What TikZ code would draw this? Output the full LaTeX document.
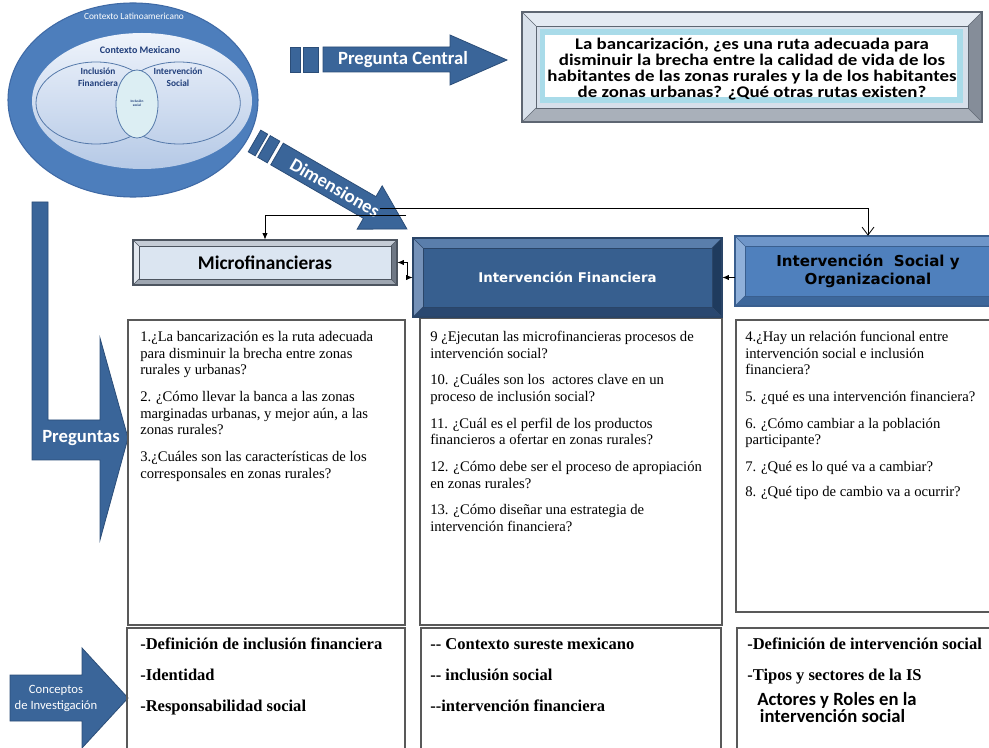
\documentclass[tikz,border=0pt]{standalone}
\usepackage{fontspec}
\setmainfont{Liberation Serif}
\newfontfamily\calib{Carlito}
\newfontfamily\calibwide[FakeStretch=1.16]{Carlito}
\newfontfamily\dejav{DejaVu Sans}
\usetikzlibrary{arrows.meta,shapes.geometric,calc}

\definecolor{arrowblue}{HTML}{3A6599}
\definecolor{arrowedge}{HTML}{2B4D78}
\definecolor{ellblue}{HTML}{4D7EBC}
\definecolor{elledge}{HTML}{3F6AA6}
\definecolor{inlight}{HTML}{EEF3FB}
\definecolor{indark}{HTML}{B5C9E6}
\definecolor{vennedge}{HTML}{5579AA}
\definecolor{centfill}{HTML}{DCEEF3}
\definecolor{navytxt}{HTML}{1F3D7A}
% micro
\definecolor{mitop}{HTML}{C5CCD6}
\definecolor{mileft}{HTML}{E3E8EF}
\definecolor{miright}{HTML}{6F7885}
\definecolor{mibot}{HTML}{9EA6B1}
\definecolor{miface}{HTML}{DBE5F1}
\definecolor{miline}{HTML}{4D5560}
% fin
\definecolor{fitop}{HTML}{5A7EAB}
\definecolor{fileft}{HTML}{7491B8}
\definecolor{firight}{HTML}{1F3B5E}
\definecolor{fibot}{HTML}{2A4870}
\definecolor{fiface}{HTML}{375F8F}
\definecolor{filine}{HTML}{2A4568}
% social
\definecolor{sotop}{HTML}{6F96C9}
\definecolor{soleft}{HTML}{8FB0DA}
\definecolor{soright}{HTML}{2F5687}
\definecolor{sobot}{HTML}{3D679B}
\definecolor{soface}{HTML}{4F80BD}
\definecolor{soline}{HTML}{3A5F8F}
% question frame
\definecolor{qftop}{HTML}{E4EAF2}
\definecolor{qfleft}{HTML}{D9E1EB}
\definecolor{qfright}{HTML}{858D99}
\definecolor{qfbot}{HTML}{A9B0BA}
\definecolor{qfface}{HTML}{D6DFEA}
\definecolor{qfline}{HTML}{5E6672}
\definecolor{qband}{HTML}{A9DBE9}

\newcommand{\bevel}[6]{%
 \fill[#6top] (#1,#2) -- (#3,#2) -- ({#3-#5},{#2+#5}) -- ({#1+#5},{#2+#5}) -- cycle;
 \fill[#6left] (#1,#2) -- ({#1+#5},{#2+#5}) -- ({#1+#5},{#4-#5}) -- (#1,#4) -- cycle;
 \fill[#6right] (#3,#2) -- (#3,#4) -- ({#3-#5},{#4-#5}) -- ({#3-#5},{#2+#5}) -- cycle;
 \fill[#6bot] (#1,#4) -- (#3,#4) -- ({#3-#5},{#4-#5}) -- ({#1+#5},{#4-#5}) -- cycle;
 \fill[#6face] ({#1+#5},{#2+#5}) rectangle ({#3-#5},{#4-#5});
 \draw[#6line, line width=0.5pt] ({#1+#5},{#2+#5}) rectangle ({#3-#5},{#4-#5});
 \draw[#6line, line width=0.5pt] (#1,#2) -- ({#1+#5},{#2+#5}) (#3,#2) -- ({#3-#5},{#2+#5})
   (#1,#4) -- ({#1+#5},{#4-#5}) (#3,#4) -- ({#3-#5},{#4-#5});
 \draw[#6line, line width=0.8pt] (#1,#2) rectangle (#3,#4);
}

\begin{document}
\begin{tikzpicture}[x=0.75pt,y=-0.75pt,
  arrowshape/.style={fill=arrowblue, draw=arrowedge, line width=0.6pt},
  arrowlabel/.style={text=white, inner sep=0pt},
  qtext/.style={anchor=north west, inner sep=0pt, align=left, font=\fontsize{11}{12.5}\selectfont},
  ctext/.style={anchor=north west, inner sep=0pt, align=left, font=\bfseries\fontsize{12.4}{23}\selectfont},
  frame/.style={draw=black!65, line width=1pt},
  conn/.style={draw=black, line width=0.6pt},
  tip/.style={-{Latex[length=5pt,width=4pt]}},
]
\clip (0,0) rectangle (989,748);
\fill[white] (0,0) rectangle (989,748);

% ---- context ellipses
\node[ellipse, fill=ellblue, draw=elledge, line width=0.8pt, minimum width=187.5pt, minimum height=145.5pt, inner sep=0pt] (latam) at (133,100) {};
\node[ellipse, top color=inlight, bottom color=indark, draw=none, minimum width=165pt, minimum height=102pt, inner sep=0pt] (mex) at (142,101) {};
\node[ellipse, draw=vennedge, line width=0.6pt, minimum width=90pt, minimum height=61.5pt, inner sep=0pt] (incfin) at (96,103) {};
\node[ellipse, draw=vennedge, line width=0.6pt, minimum width=92pt, minimum height=61.5pt, inner sep=0pt] (intsoc) at (179,103) {};
\node[text=white, inner sep=0pt, font=\calib\fontsize{7}{8}\selectfont] (latamlbl) at (134,16) {Contexto Latinoamericano};
\node[text=navytxt, inner sep=0pt, font=\calib\bfseries\fontsize{7.5}{8}\selectfont] (mexlbl) at (140,50) {Contexto Mexicano};
\node[text=navytxt, inner sep=0pt, align=center, font=\calib\bfseries\fontsize{7}{8.8}\selectfont] (incfinlbl) at (98,77) {Inclusión\\Financiera};
\node[text=navytxt, inner sep=0pt, align=center, font=\calib\bfseries\fontsize{7}{8.8}\selectfont] (intsoclbl) at (178,77) {Intervención\\Social};
\node[ellipse, fill=centfill, draw=vennedge, line width=0.6pt, minimum width=31.5pt, minimum height=51pt, inner sep=0pt] (incsoc) at (137,104) {};
\node[text=navytxt, inner sep=0pt, align=center, font=\calib\bfseries\fontsize{2.6}{3}\selectfont] (incsoclbl) at (137,103) {Inclusión\\social};

% ---- Pregunta Central arrow
\filldraw[arrowshape] (290,47) -- (300,47) -- (300,72) -- (290,72) -- cycle;
\filldraw[arrowshape] (303,47) -- (318,47) -- (318,72) -- (303,72) -- cycle;
\filldraw[arrowshape] (323,47) -- (450,47) -- (450,35) -- (507,60) -- (450,85) -- (450,72) -- (323,72) -- cycle;
\node[arrowlabel, font=\calib\bfseries\fontsize{14}{16}\selectfont] (pclbl) at (403,60) {Pregunta Central};

% ---- central question frame
\bevel{522}{12}{982}{122}{14}{qf}
\fill[qband] (540,29) rectangle (963,103);
\fill[white] (545,35) rectangle (957,97);
\node[inner sep=0pt, align=center, font=\calibwide\bfseries\fontsize{12.2}{12.1}\selectfont] (pq) at (752,69)
 {La bancarización, ¿es una ruta adecuada para\\disminuir la brecha entre la calidad de vida de los\\habitantes de las zonas rurales y la de los habitantes\\de zonas urbanas? ¿Qué otras rutas existen?};

% ---- Dimensiones arrow
\begin{scope}[shift={(254.5,141)}, rotate=-30]
\filldraw[arrowshape] (0,-12.5) -- (8,-12.5) -- (8,12.5) -- (0,12.5) -- cycle;
\filldraw[arrowshape] (11,-12.5) -- (22,-12.5) -- (22,12.5) -- (11,12.5) -- cycle;
\filldraw[arrowshape] (26,-12.5) -- (133,-12.5) -- (133,-25) -- (176,0) -- (133,25) -- (133,12.5) -- (26,12.5) -- cycle;
\node[arrowlabel, rotate=-30, font=\calib\bfseries\fontsize{14}{16}\selectfont] (dimlbl) at (93,0) {Dimensiones};
\end{scope}

% ---- Preguntas arrow
\filldraw[arrowshape] (32,202) -- (48,202) -- (48,420) -- (100,420) -- (100,338) -- (128,438) -- (100,540) -- (100,460) -- (32,460) -- cycle;
\node[arrowlabel, font=\calib\bfseries\fontsize{14}{16}\selectfont] (preglbl) at (81,438) {Preguntas};

% ---- Conceptos arrow
\filldraw[arrowshape] (10,675) -- (82,675) -- (82,648) -- (128,698) -- (82,748) -- (82,721) -- (10,721) -- cycle;
\node[arrowlabel, align=center, font=\calib\fontsize{9.5}{12}\selectfont] (conclbl) at (56,698) {Conceptos\\de Investigación};

% ---- question and concept frames
\draw[frame] (128,320) rectangle (405,625);
\draw[frame] (420,318) rectangle (722,625);
\draw[frame] (736,320) rectangle (1000,612);
\draw[frame] (127,628) rectangle (405,760);
\draw[frame] (421,628) rectangle (721,760);
\draw[frame] (737,628) rectangle (1000,760);

% ---- dimension boxes
\bevel{133}{240}{397}{285}{6}{mi}
\node[inner sep=0pt, minimum width=198pt, minimum height=33.75pt, font=\calib\bfseries\fontsize{14.5}{16}\selectfont] (micro) at (265,262.5) {Microfinancieras};
\bevel{413}{238}{722}{317}{10}{fi}
\node[inner sep=0pt, minimum width=231.75pt, minimum height=59.25pt, text=white, font=\dejav\bfseries\fontsize{10}{12}\selectfont] (fin) at (567.5,277.5) {Intervención Financiera};
\bevel{735}{236}{1001}{306}{10}{so}
\node[inner sep=0pt, minimum width=199.5pt, minimum height=52.5pt, align=center, font=\dejav\bfseries\fontsize{11.3}{13.5}\selectfont] (social) at (868,271) {Intervención\ \ Social y\\Organizacional};

% ---- connectors
\coordinate (dimA) at (380,208);
\coordinate (dimB) at (406,215);
\draw[conn, -{Straight Barb[length=6pt,width=9pt]}] (dimA) -| (social.north);
\draw[conn, tip] (dimB) -| (micro.north);
\draw[conn, {Latex[length=5pt,width=4pt]}-{Latex[length=5pt,width=4pt]}] (micro.east) -- ++(10,0) |- (fin.west);
\draw[conn, tip] (social.west |- fin.east) -- (fin.east);

% ---- questions
\node[qtext] (q1) at (140,331) {1.¿La bancarización es la ruta adecuada\\para disminuir la brecha entre zonas\\rurales y urbanas?\\[7.5pt]2. ¿Cómo llevar la banca a las zonas\\marginadas urbanas, y mejor aún, a las\\zonas rurales?\\[7.5pt]3.¿Cuáles son las características de los\\corresponsales en zonas rurales?};
\node[qtext] (q2) at (430,331) {9 ¿Ejecutan las microfinancieras procesos de\\intervención social?\\[7.5pt]10. ¿Cuáles son los\ \ actores clave en un\\proceso de inclusión social?\\[7.5pt]11. ¿Cuál es el perfil de los productos\\financieros a ofertar en zonas rurales?\\[7.5pt]12. ¿Cómo debe ser el proceso de apropiación\\en zonas rurales?\\[7.5pt]13. ¿Cómo diseñar una estrategia de\\intervención financiera?};
\node[qtext] (q3) at (745,331) {4.¿Hay un relación funcional entre\\intervención social e inclusión\\financiera?\\[7.5pt]5. ¿qué es una intervención financiera?\\[7.5pt]6. ¿Cómo cambiar a la población\\participante?\\[7.5pt]7. ¿Qué es lo qué va a cambiar?\\[6pt]8. ¿Qué tipo de cambio va a ocurrir?};

% ---- concepts
\node[ctext] (c1) at (140,638) {-Definición de inclusión financiera\\-Identidad\\-Responsabilidad social};
\node[ctext] (c2) at (430,638) {-{}- Contexto sureste mexicano\\-{}- inclusión social\\-{}-intervención financiera};
\node[ctext] (c3) at (747,638) {-Definición de intervención social\\-Tipos y sectores de la IS};
\node[anchor=north west, inner sep=0pt, align=left, font=\calib\bfseries\fontsize{14}{12.6}\selectfont] (c3b) at (757,692) {Actores y Roles en la\\\hspace{2pt}intervención social};
\end{tikzpicture}
\end{document}
